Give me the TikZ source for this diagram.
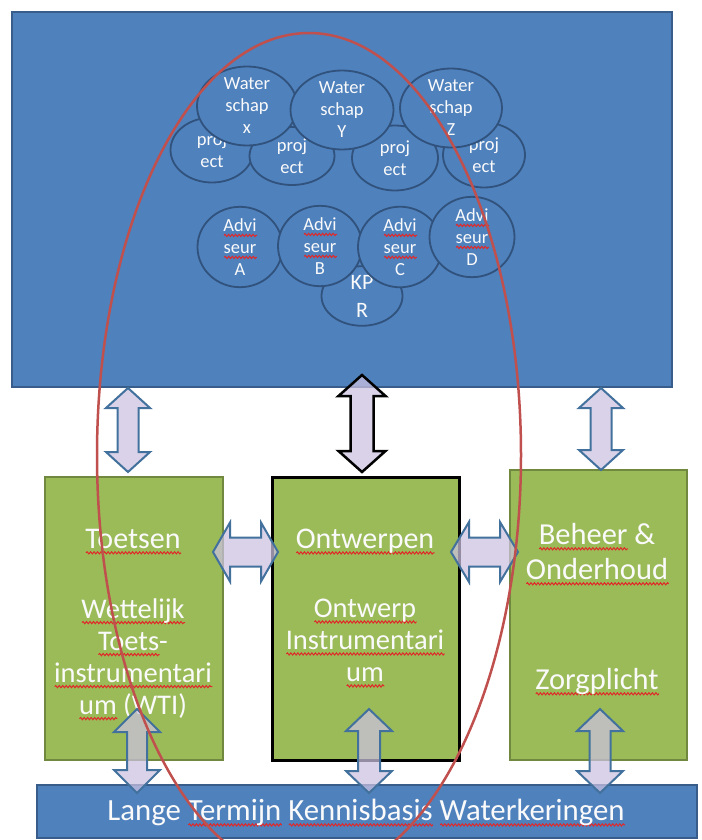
\documentclass[tikz,border=0pt]{standalone}
\usepackage{fontspec}
\setmainfont{Carlito}
\usetikzlibrary{shapes.geometric,calc,decorations.pathmorphing}
\definecolor{topblue}{RGB}{79,129,189}
\definecolor{topedge}{RGB}{56,93,138}
\definecolor{elledge}{RGB}{48,82,124}
\definecolor{boxgreen}{RGB}{155,187,89}
\definecolor{greenedge}{RGB}{113,137,63}
\definecolor{arrfill}{RGB}{203,193,224}
\definecolor{arredge}{RGB}{65,113,156}
\definecolor{loopred}{RGB}{192,80,77}
\definecolor{waved}{RGB}{225,40,40}
\definecolor{txt}{RGB}{250,250,250}
\newcommand\sq[1]{\leavevmode\setbox0=\hbox{#1}\hbox{\rlap{\raisebox{-4pt}{\tikz[x=1pt,y=1pt,baseline=0pt]\draw[waved,line width=1pt,decorate,decoration={snake,amplitude=1.1pt,segment length=3.5pt}] (0,0)--(\the\wd0,0);}}\box0}}
\newcommand\vdarr[6]{%
\draw[blockarrow,#1] let \p1=(#2), \p2=(#3) in
 (\x1,\y1) -- (\x1+#5pt,\y1-#6pt) -- (\x1+#4pt,\y1-#6pt) -- (\x2+#4pt,\y2+#6pt) -- (\x2+#5pt,\y2+#6pt) -- (\x2,\y2) -- (\x2-#5pt,\y2+#6pt) -- (\x2-#4pt,\y2+#6pt) -- (\x1-#4pt,\y1-#6pt) -- (\x1-#5pt,\y1-#6pt) -- cycle;}
\newcommand\hdarr[6]{%
\draw[blockarrow,#1] let \p1=(#2), \p2=(#3) in
 (\x1,\y1) -- (\x1+#6pt,\y1+#5pt) -- (\x1+#6pt,\y1+#4pt) -- (\x2-#6pt,\y2+#4pt) -- (\x2-#6pt,\y2+#5pt) -- (\x2,\y2) -- (\x2-#6pt,\y2-#5pt) -- (\x2-#6pt,\y2-#4pt) -- (\x1+#6pt,\y1-#4pt) -- (\x1+#6pt,\y1-#5pt) -- cycle;}
\begin{document}
\begin{tikzpicture}[x=1pt,y=-1pt,
  panel/.style={draw=topedge, line width=2pt, fill=topblue, inner sep=0},
  gbox/.style={draw=greenedge, line width=2pt, fill=boxgreen, inner sep=0},
  ell/.style={ellipse, draw=elledge, line width=1.8pt, fill=topblue, inner sep=0, align=center, text=txt, font=\fontsize{18.5}{22}\selectfont},
  lbl/.style={align=center, inner sep=0, text=txt, font=\fontsize{30}{32}\selectfont},
  blk/.style={lbl, font=\fontsize{28.5}{32}\selectfont},
  blockarrow/.style={draw=arredge, line width=2pt, fill=arrfill, fill opacity=0.73, line join=miter},
  loop/.style={ellipse, draw=loopred, line width=2.5pt, inner sep=0}]
\useasboundingbox (0,0) rectangle (701,840);
% boxes
\node[panel, minimum width=660pt, minimum height=375pt] (top) at (342,199.5) {};
\node[gbox, minimum width=178pt, minimum height=283pt] (toets) at (134,618.5) {};
\node[gbox, draw=black, line width=3pt, minimum width=187pt, minimum height=283pt] (ontw) at (365.5,618.5) {};
\node[gbox, minimum width=177pt, minimum height=290pt] (beheer) at (598.5,615) {};
\node[panel, minimum width=660pt, minimum height=53pt] (ltkb) at (367,811.5) {};
% ellipses in top panel
\node[ell, minimum width=83pt, minimum height=65pt] (p1) at (212,150) {proj\\ect};
\node[ell, minimum width=85pt, minimum height=58pt] (p2) at (292,156) {proj\\ect};
\node[ell, minimum width=86pt, minimum height=65pt] (p3) at (395,158) {proj\\ect};
\node[ell, minimum width=82pt, minimum height=65pt] (p4) at (484,155) {proj\\ect};
\node[ell, minimum width=100pt, minimum height=65pt] (wsx) at (247,106) {Water\\schap\\x};
\node[ell, minimum width=103pt, minimum height=65pt] (wsy) at (342,110) {Water\\schap\\Y};
\node[ell, minimum width=102pt, minimum height=63pt] (wsz) at (451,108) {Water\\schap\\Z};
\node[ell, minimum width=81pt, minimum height=52pt, font=\fontsize{22}{28}\selectfont] (kpr) at (362,296) {KP\\R};
\node[ell, minimum width=85pt, minimum height=63pt] (ada) at (240,247) {\sq{Advi}\\\sq{seur}\\A};
\node[ell, minimum width=84pt, minimum height=65pt] (adb) at (320,246) {\sq{Advi}\\\sq{seur}\\B};
\node[ell, minimum width=84pt, minimum height=63pt] (adc) at (400,247) {\sq{Advi}\\\sq{seur}\\C};
\node[ell, minimum width=85pt, minimum height=67pt] (add) at (472,237) {\sq{Advi}\\\sq{seur}\\D};
% box labels
\node[lbl] (t1) at (133,542) {\sq{Toetsen}};
\node[blk] (t2) at (133,659.5) {\sq{Wettelijk}\\\sq{Toets}-\\\sq{instrumentari}\\\sq{um} (WTI)};
\node[lbl] (o1) at (365,542) {\sq{Ontwerpen}};
\node[blk] (o2) at (365,643.5) {\sq{Ontwerp}\\\sq{Instrumentari}\\\sq{um}};
\node[lbl, font=\fontsize{30.5}{35}\selectfont] (b1) at (597,554.5) {\sq{Beheer} \&\\\sq{Onderhoud}};
\node[lbl, font=\fontsize{30.5}{35}\selectfont] (b2) at (597,682) {\sq{Zorgplicht}};
\node[lbl, font=\fontsize{30.8}{35}\selectfont] (l1) at (366,813) {Lange \sq{Termijn} \sq{Kennisbasis} \sq{Waterkeringen}};
% arrow end points
\coordinate (a1t) at (128,388); \coordinate (a1b) at (128,472);
\coordinate (a2t) at (362,375); \coordinate (a2b) at (362,472);
\coordinate (a3t) at (601,388); \coordinate (a3b) at (601,470);
\coordinate (h1l) at (213,552); \coordinate (h1r) at (278,552);
\coordinate (h2l) at (451,552); \coordinate (h2r) at (518,552);
\coordinate (b1t) at (137,709); \coordinate (b1b) at (137,793);
\coordinate (b2t) at (369,709); \coordinate (b2b) at (369,793);
\coordinate (b3t) at (600,709); \coordinate (b3b) at (600,793);
% arrows
\vdarr{}{a1t}{a1b}{10.5}{22}{20}
\vdarr{draw=black, line width=2.5pt}{a2t}{a2b}{11.5}{23.5}{21}
\vdarr{}{a3t}{a3b}{10.5}{22}{20}
\hdarr{}{h1l}{h1r}{14.5}{29.5}{17}
\hdarr{}{h2l}{h2r}{14.5}{30}{18}
\vdarr{}{b1t}{b1b}{10}{23}{23}
\vdarr{}{b2t}{b2b}{11}{23}{22}
\vdarr{}{b3t}{b3b}{10.5}{23}{22}
% red loop
\node[loop, minimum width=424pt, minimum height=844pt] (focus) at (309,455) {};
\end{tikzpicture}
\end{document}
